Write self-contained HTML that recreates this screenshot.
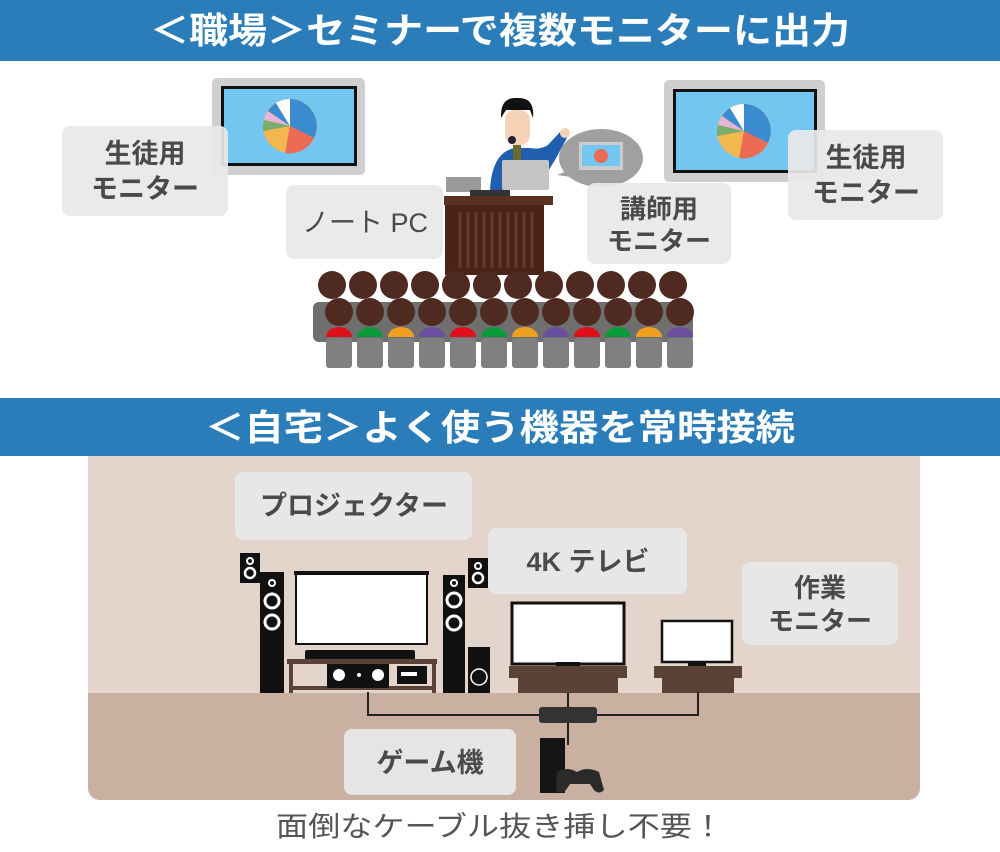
<!DOCTYPE html>
<html><head><meta charset="utf-8"><style>
html,body{margin:0;padding:0;background:#fff;}
svg{display:block}
text{font-family:"Liberation Sans","Noto Sans CJK JP",sans-serif;}
</style></head><body>
<svg width="1000" height="852" viewBox="0 0 1000 852" xmlns="http://www.w3.org/2000/svg">
<!-- header 1 -->
<rect x="0" y="0" width="1000" height="61" fill="#2a7db8"/>
<text x="500" y="43" font-size="36" font-weight="bold" fill="#fff" text-anchor="middle" textLength="700" lengthAdjust="spacingAndGlyphs">＜職場＞セミナーで複数モニターに出力</text>

<!-- left monitor -->
<rect x="212" y="78" width="153" height="97" rx="5" fill="#cfcfcf"/>
<rect x="221" y="86" width="136" height="80" fill="#111"/>
<rect x="224" y="89" width="130" height="74" fill="#73c6ef"/>
<g transform="translate(290,126)">
<circle r="27" fill="#f2b84f"/>
<path d="M0 0 L0 -27 A27 27 0 0 1 24 12 Z" fill="#3a8bd0"/>
<path d="M0 0 L24 12 A27 27 0 0 1 -5 27 Z" fill="#ec6b55"/>
<path d="M0 0 L-26 -6 A27 27 0 0 1 -22 -15 Z" fill="#e6b5d5"/>
<path d="M0 0 L-27 5 A27 27 0 0 1 -26 -6 Z" fill="#79ad6e"/>
<path d="M0 0 L-22 -15 A27 27 0 0 1 -14 -23 Z" fill="#3a8bd0"/>
<path d="M0 0 L-14 -23 A27 27 0 0 1 0 -27 Z" fill="#fff"/>
</g>
<!-- right monitor -->
<rect x="664" y="80" width="161" height="102" rx="5" fill="#cfcfcf"/>
<rect x="673" y="89" width="144" height="84" fill="#111"/>
<rect x="676" y="92" width="138" height="78" fill="#73c6ef"/>
<g transform="translate(744,131)">
<circle r="27" fill="#f2b84f"/>
<path d="M0 0 L0 -27 A27 27 0 0 1 24 12 Z" fill="#3a8bd0"/>
<path d="M0 0 L24 12 A27 27 0 0 1 -5 27 Z" fill="#ec6b55"/>
<path d="M0 0 L-26 -6 A27 27 0 0 1 -22 -15 Z" fill="#e6b5d5"/>
<path d="M0 0 L-27 5 A27 27 0 0 1 -26 -6 Z" fill="#79ad6e"/>
<path d="M0 0 L-22 -15 A27 27 0 0 1 -14 -23 Z" fill="#3a8bd0"/>
<path d="M0 0 L-14 -23 A27 27 0 0 1 0 -27 Z" fill="#fff"/>
</g>

<!-- labels top -->
<rect x="62" y="126" width="166" height="90" rx="8" fill="#e8e8e8" fill-opacity="0.93"/>
<text x="145" y="163" font-size="27" font-weight="bold" fill="#4a4a4a" text-anchor="middle">生徒用</text>
<text x="145" y="198" font-size="27" font-weight="bold" fill="#4a4a4a" text-anchor="middle">モニター</text>
<rect x="788" y="130" width="155" height="90" rx="8" fill="#e8e8e8" fill-opacity="0.93"/>
<text x="866" y="167" font-size="27" font-weight="bold" fill="#4a4a4a" text-anchor="middle">生徒用</text>
<text x="866" y="202" font-size="27" font-weight="bold" fill="#4a4a4a" text-anchor="middle">モニター</text>

<!-- speaker -->
<path d="M490 190 Q492 152 515 148 L530 148 Q540 150 548 145 L560 132 L568 136 L555 160 Q545 175 540 190 Z" fill="#1f5fae"/>
<rect x="505" y="110" width="25" height="35" rx="10" fill="#f6d3b6"/>
<path d="M501 118 Q500 97 517 98 Q535 97 533 118 L530 110 L506 110 Z" fill="#111"/>
<rect x="513" y="145" width="8" height="18" fill="#6b6b30"/>
<circle cx="512" cy="140" r="4" fill="#223"/>
<circle cx="565" cy="133" r="5" fill="#f6d3b6"/>
<rect x="502" y="160" width="47" height="30" rx="2" fill="#c4c4c4"/>
<rect x="446" y="177" width="35" height="15" fill="#9a9a9a"/>
<rect x="470" y="190" width="40" height="6" fill="#333"/>
<!-- podium -->
<rect x="444" y="196" width="109" height="9" fill="#5b3020"/>
<rect x="445" y="205" width="99" height="70" fill="#4a2418"/>
<g stroke="#6b3a28" stroke-width="3">
<line x1="460" y1="212" x2="460" y2="268"/><line x1="468" y1="212" x2="468" y2="268"/><line x1="476" y1="212" x2="476" y2="268"/><line x1="484" y1="212" x2="484" y2="268"/><line x1="492" y1="212" x2="492" y2="268"/><line x1="500" y1="212" x2="500" y2="268"/><line x1="508" y1="212" x2="508" y2="268"/><line x1="516" y1="212" x2="516" y2="268"/><line x1="524" y1="212" x2="524" y2="268"/><line x1="532" y1="212" x2="532" y2="268"/>
</g>
<!-- speech bubble -->
<ellipse cx="601" cy="158" rx="42" ry="29" fill="#a0a0a0"/>
<path d="M570 170 L557 175 L578 178 Z" fill="#a0a0a0"/>
<rect x="579" y="142" width="44" height="28" fill="#ccc"/>
<rect x="582" y="145" width="38" height="21" fill="#73c6ef"/>
<circle cx="601" cy="156" r="7" fill="#ec6b55"/>

<rect x="286" y="185" width="157" height="74" rx="8" fill="#e8e8e8" fill-opacity="0.93"/>
<text x="365" y="232" font-size="27" fill="#4a4a4a" text-anchor="middle">ノート PC</text>
<rect x="587" y="183" width="144" height="81" rx="8" fill="#e8e8e8" fill-opacity="0.93"/>
<text x="659" y="218" font-size="26" font-weight="bold" fill="#4a4a4a" text-anchor="middle">講師用</text>
<text x="659" y="250" font-size="26" font-weight="bold" fill="#4a4a4a" text-anchor="middle">モニター</text>

<!-- audience -->
<rect x="313" y="302" width="380" height="40" rx="6" fill="#6f6f6f"/>
<g fill="#4f2a20">
<circle cx="332" cy="285" r="14"/><circle cx="363" cy="285" r="14"/><circle cx="394" cy="285" r="14"/><circle cx="425" cy="285" r="14"/><circle cx="456" cy="285" r="14"/><circle cx="487" cy="285" r="14"/><circle cx="518" cy="285" r="14"/><circle cx="549" cy="285" r="14"/><circle cx="580" cy="285" r="14"/><circle cx="611" cy="285" r="14"/><circle cx="642" cy="285" r="14"/><circle cx="673" cy="285" r="14"/>
</g>
<g>
<path d="M326 337 a13 10 0 0 1 26 0 Z" fill="#e0101b"/><path d="M357 337 a13 10 0 0 1 26 0 Z" fill="#0a9a3a"/><path d="M388 337 a13 10 0 0 1 26 0 Z" fill="#f0a020"/><path d="M419 337 a13 10 0 0 1 26 0 Z" fill="#6a4fa0"/><path d="M450 337 a13 10 0 0 1 26 0 Z" fill="#e0101b"/><path d="M481 337 a13 10 0 0 1 26 0 Z" fill="#0a9a3a"/><path d="M512 337 a13 10 0 0 1 26 0 Z" fill="#f0a020"/><path d="M543 337 a13 10 0 0 1 26 0 Z" fill="#6a4fa0"/><path d="M574 337 a13 10 0 0 1 26 0 Z" fill="#e0101b"/><path d="M605 337 a13 10 0 0 1 26 0 Z" fill="#0a9a3a"/><path d="M636 337 a13 10 0 0 1 26 0 Z" fill="#f0a020"/><path d="M667 337 a13 10 0 0 1 26 0 Z" fill="#6a4fa0"/>
</g>
<g fill="#4f2a20">
<circle cx="339" cy="312" r="14"/><circle cx="370" cy="312" r="14"/><circle cx="401" cy="312" r="14"/><circle cx="432" cy="312" r="14"/><circle cx="463" cy="312" r="14"/><circle cx="494" cy="312" r="14"/><circle cx="525" cy="312" r="14"/><circle cx="556" cy="312" r="14"/><circle cx="587" cy="312" r="14"/><circle cx="618" cy="312" r="14"/><circle cx="649" cy="312" r="14"/><circle cx="680" cy="312" r="14"/>
</g>
<g fill="#808080">
<rect x="326" y="338" width="26" height="30" rx="3"/><rect x="357" y="338" width="26" height="30" rx="3"/><rect x="388" y="338" width="26" height="30" rx="3"/><rect x="419" y="338" width="26" height="30" rx="3"/><rect x="450" y="338" width="26" height="30" rx="3"/><rect x="481" y="338" width="26" height="30" rx="3"/><rect x="512" y="338" width="26" height="30" rx="3"/><rect x="543" y="338" width="26" height="30" rx="3"/><rect x="574" y="338" width="26" height="30" rx="3"/><rect x="605" y="338" width="26" height="30" rx="3"/><rect x="636" y="338" width="26" height="30" rx="3"/><rect x="667" y="338" width="26" height="30" rx="3"/>
</g>

<!-- header 2 -->
<rect x="0" y="398" width="1000" height="58" fill="#2a7db8"/>
<text x="500" y="440" font-size="36" font-weight="bold" fill="#fff" text-anchor="middle" textLength="590" lengthAdjust="spacingAndGlyphs">＜自宅＞よく使う機器を常時接続</text>

<!-- room -->
<path d="M88 456 H920 V788 a12 12 0 0 1 -12 12 H100 a12 12 0 0 1 -12 -12 Z" fill="#e3d5cc"/>
<path d="M88 693 H920 V788 a12 12 0 0 1 -12 12 H100 a12 12 0 0 1 -12 -12 Z" fill="#c9b0a1"/>

<!-- speakers -->
<rect x="240" y="553" width="20" height="30" fill="#111"/>
<circle cx="250" cy="561" r="3" fill="none" stroke="#fff" stroke-width="2"/><circle cx="250" cy="573" r="5" fill="none" stroke="#fff" stroke-width="2.5"/>
<rect x="260" y="572" width="24" height="121" fill="#111"/>
<circle cx="272" cy="583" r="3" fill="none" stroke="#fff" stroke-width="2"/><circle cx="272" cy="601" r="7" fill="#111" stroke="#fff" stroke-width="3"/><circle cx="272" cy="622" r="7" fill="#111" stroke="#fff" stroke-width="3"/>
<rect x="443" y="575" width="22" height="118" fill="#111"/>
<circle cx="454" cy="583" r="3" fill="none" stroke="#fff" stroke-width="2"/><circle cx="454" cy="600" r="7" fill="#111" stroke="#fff" stroke-width="3"/><circle cx="454" cy="623" r="7" fill="#111" stroke="#fff" stroke-width="3"/>
<rect x="468" y="558" width="20" height="30" fill="#111"/>
<circle cx="478" cy="566" r="3" fill="none" stroke="#fff" stroke-width="2"/><circle cx="478" cy="578" r="5" fill="none" stroke="#fff" stroke-width="2.5"/>
<rect x="468" y="647" width="22" height="46" fill="#111"/>
<circle cx="479" cy="677" r="8" fill="none" stroke="#fff" stroke-width="1.5"/>
<!-- screen -->
<rect x="294" y="571" width="135" height="4" fill="#111"/>
<rect x="296" y="574" width="131" height="70" fill="#fff" stroke="#111" stroke-width="2"/>
<rect x="305" y="650" width="110" height="10" rx="2" fill="#111"/>
<!-- TV stand -->
<rect x="287" y="659" width="150" height="5" fill="#5a4236"/>
<rect x="289" y="664" width="4" height="29" fill="#5a4236"/><rect x="432" y="664" width="4" height="29" fill="#5a4236"/>
<rect x="289" y="686" width="147" height="4" fill="#5a4236"/>
<rect x="327" y="664" width="62" height="24" fill="#111"/>
<circle cx="339" cy="675" r="6" fill="#fff"/><circle cx="359" cy="675" r="2" fill="#fff"/><circle cx="378" cy="675" r="6" fill="#fff"/>
<rect x="397" y="666" width="30" height="18" fill="#111"/><rect x="401" y="672" width="16" height="4" fill="#fff"/>
<!-- TV 4K -->
<rect x="512" y="603" width="112" height="61" fill="#fff" stroke="#111" stroke-width="3"/>
<rect x="556" y="662" width="24" height="4" fill="#111"/>
<rect x="509" y="666" width="118" height="12" fill="#5a4236"/>
<rect x="518" y="678" width="100" height="15" fill="#5a4236"/>
<!-- work monitor -->
<rect x="662" y="621" width="70" height="41" fill="#fff" stroke="#111" stroke-width="2.5"/>
<rect x="688" y="661" width="18" height="5" fill="#111"/>
<rect x="654" y="666" width="88" height="12" fill="#5a4236"/>
<rect x="662" y="678" width="72" height="15" fill="#5a4236"/>

<!-- cables -->
<path d="M368 692 V715 H698 V692" fill="none" stroke="#222" stroke-width="2"/>
<line x1="568" y1="693" x2="568" y2="745" stroke="#222" stroke-width="2"/>
<rect x="539" y="707" width="58" height="16" rx="3" fill="#333"/>
<!-- console -->
<rect x="540" y="738" width="25" height="55" fill="#151515"/>
<path d="M557 772 q10 -6 20 0 q10 -6 22 0 l5 18 q-5 5 -10 0 l-4 -6 h-20 l-4 6 q-5 5 -10 0 Z" fill="#2a2a2a"/>

<!-- home labels -->
<rect x="235" y="472" width="237" height="68" rx="8" fill="#e8e8e8" fill-opacity="0.93"/>
<text x="354" y="515" font-size="27" font-weight="bold" fill="#4a4a4a" text-anchor="middle">プロジェクター</text>
<rect x="488" y="528" width="199" height="66" rx="8" fill="#e8e8e8" fill-opacity="0.93"/>
<text x="588" y="571" font-size="27" font-weight="bold" fill="#4a4a4a" text-anchor="middle">4K テレビ</text>
<rect x="742" y="562" width="156" height="83" rx="8" fill="#e8e8e8" fill-opacity="0.93"/>
<text x="820" y="597" font-size="26" font-weight="bold" fill="#4a4a4a" text-anchor="middle">作業</text>
<text x="820" y="630" font-size="26" font-weight="bold" fill="#4a4a4a" text-anchor="middle">モニター</text>
<rect x="344" y="729" width="172" height="66" rx="8" fill="#e8e8e8" fill-opacity="0.93"/>
<text x="430" y="772" font-size="27" font-weight="bold" fill="#4a4a4a" text-anchor="middle">ゲーム機</text>

<text x="500" y="836" font-size="28" fill="#555" text-anchor="middle" textLength="448" lengthAdjust="spacingAndGlyphs">面倒なケーブル抜き挿し不要！</text>
</svg>
</body></html>
